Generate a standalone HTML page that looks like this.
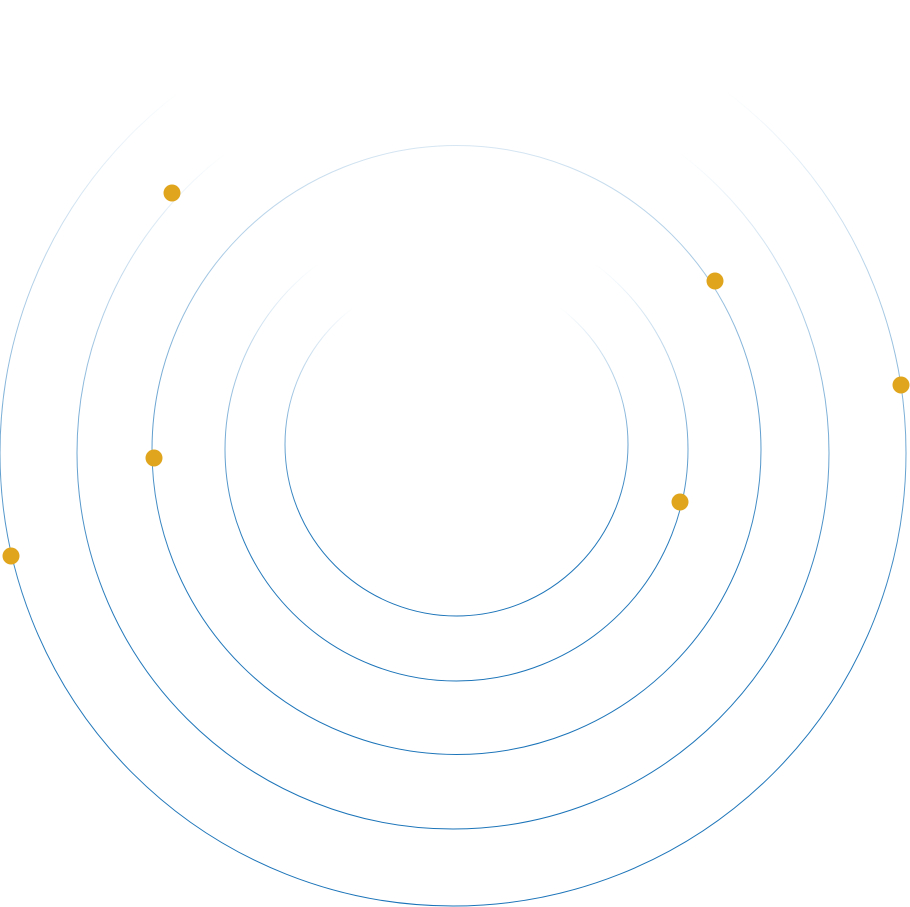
<!DOCTYPE html>
<html><head><meta charset="utf-8"><style>html,body{margin:0;padding:0;background:#fff;width:910px;height:907px;overflow:hidden}</style></head>
<body>
<svg width="910" height="907" viewBox="0 0 910 907" xmlns="http://www.w3.org/2000/svg">
<defs>
<linearGradient id="g" x1="0" y1="0" x2="0" y2="1">
<stop offset="0" stop-color="#1a73b8" stop-opacity="0"/>
<stop offset="0.1" stop-color="#1a73b8" stop-opacity="0"/>
<stop offset="0.35" stop-color="#1a73b8" stop-opacity="0.4"/>
<stop offset="0.7" stop-color="#1a73b8" stop-opacity="0.95"/>
<stop offset="1" stop-color="#1a73b8" stop-opacity="1"/>
</linearGradient>
<linearGradient id="g3" x1="0" y1="0" x2="0" y2="1">
<stop offset="0" stop-color="#1a73b8" stop-opacity="0.18"/>
<stop offset="0.3" stop-color="#1a73b8" stop-opacity="0.5"/>
<stop offset="0.7" stop-color="#1a73b8" stop-opacity="0.95"/>
<stop offset="1" stop-color="#1a73b8" stop-opacity="1"/>
</linearGradient>
</defs>
<g fill="none" stroke="url(#g)" stroke-width="1">
<circle cx="456.5" cy="444.5" r="171.5"/>
<circle cx="456.5" cy="449.5" r="231.5"/>
<circle cx="456.5" cy="450" r="304.5" stroke="url(#g3)"/>
<circle cx="453" cy="453" r="376"/>
<circle cx="453" cy="453" r="453"/>
</g>
<g fill="#e0a51d">
<circle cx="172" cy="193" r="8.5"/>
<circle cx="715" cy="281" r="8.5"/>
<circle cx="901" cy="385" r="8.5"/>
<circle cx="154" cy="458" r="8.5"/>
<circle cx="680" cy="502" r="8.5"/>
<circle cx="11" cy="556" r="8.5"/>
</g>
</svg>
</body></html>
